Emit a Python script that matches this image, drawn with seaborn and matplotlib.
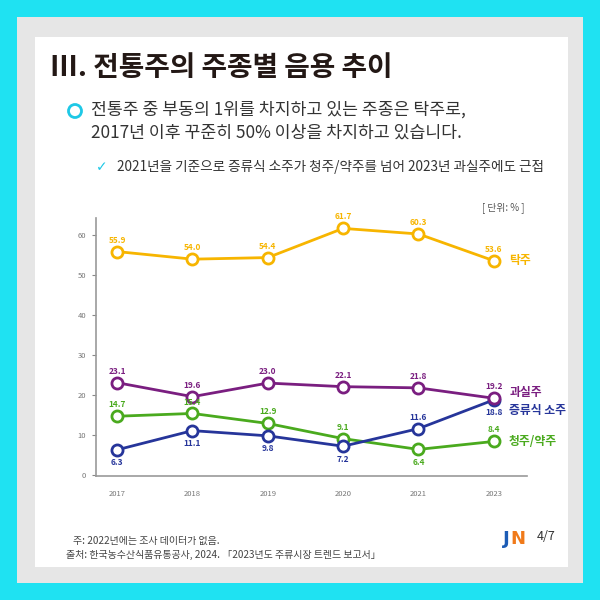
import pandas as pd
import matplotlib
matplotlib.use("Agg")
import matplotlib.pyplot as plt
import seaborn as sns
from matplotlib.patches import Rectangle, Circle

# data
years = ["2017", "2018", "2019", "2020", "2021", "2023"]
takju = [55.9, 54.0, 54.4, 61.7, 60.3, 53.6]
gwasilju = [23.1, 19.6, 23.0, 22.1, 21.8, 19.2]
soju = [6.3, 11.1, 9.8, 7.2, 11.6, 18.8]
cheongju = [14.7, 15.4, 12.9, 9.1, 6.4, 8.4]
series_names = ["탁주", "청주/약주", "증류식 소주", "과실주"]
yticks = [0, 10, 20, 30, 40, 50, 60]

sns.set_theme(style="white")
plt.rcParams['font.family'] = ['Noto Sans CJK KR', 'DejaVu Sans']

colors = {"탁주": "#F7B500", "과실주": "#7A1E80", "증류식 소주": "#26359A", "청주/약주": "#4AAA1E"}
values = {"탁주": takju, "과실주": gwasilju, "증류식 소주": soju, "청주/약주": cheongju}
# label position per point: 1 above, -1 below
label_side = {
    "탁주": [1, 1, 1, 1, 1, 1],
    "과실주": [1, 1, 1, 1, 1, 1],
    "증류식 소주": [-1, -1, -1, -1, 1, -1],
    "청주/약주": [1, 1, 1, 1, -1, 1],
}
# name label offsets at the right end (points)
name_dy = {"탁주": 0, "과실주": 4, "증류식 소주": -8, "청주/약주": 0}

rows = []
for name in series_names:
    for i, y in enumerate(years):
        rows.append({"year": y, "pos": i, "value": values[name][i], "series": name})
df = pd.DataFrame(rows)

fig = plt.figure(figsize=(6, 6), dpi=100)
fig.patch.set_facecolor("#1FE2F2")

def fx(px):
    return px / 600

def fy(py):
    return 1 - py / 600

# frame (behind the axes)
fig.patches.append(Rectangle((fx(17), fy(583)), fx(566), 566 / 600, transform=fig.transFigure,
                             facecolor="#E6E6E6", edgecolor="none", zorder=-3))
fig.patches.append(Rectangle((fx(35), fy(567)), fx(533), 530 / 600, transform=fig.transFigure,
                             facecolor="white", edgecolor="none", zorder=-2))

ax = fig.add_axes([fx(96), fy(476), fx(431), 258 / 600])
ax.set_facecolor("none")

for name in series_names:
    sub = df[df["series"] == name]
    c = colors[name]
    sns.lineplot(data=sub, x="pos", y="value", ax=ax, color=c, linewidth=2,
                 marker="o", markersize=8, markerfacecolor="white",
                 markeredgecolor=c, markeredgewidth=2, legend=False)
    for i, v in enumerate(values[name]):
        side = label_side[name][i]
        ax.annotate(f"{v:.1f}", xy=(i, v), xytext=(0, 5 * side if side > 0 else -6),
                    textcoords="offset points",
                    ha="center", va="bottom" if side > 0 else "top",
                    fontsize=6, color=c, fontweight="bold")
    ax.annotate(name, xy=(len(years) - 1, values[name][-1]), xytext=(11, name_dy[name]),
                textcoords="offset points", ha="left", va="center",
                fontsize=8.5, color=c, fontweight="bold")

ax.set_xlim(-0.28, 5.44)
ax.set_ylim(-0.25, 64.3)
ax.set_xticks(range(len(years)))
ax.set_xticklabels(years)
ax.set_yticks(yticks)
ax.set_xlabel("")
ax.set_ylabel("")
ax.tick_params(axis="y", length=3, width=0.8, color="#888888", labelsize=5.5,
               labelcolor="#777777", pad=4, left=True)
ax.tick_params(axis="x", length=0, labelsize=5.5, labelcolor="#777777", pad=10)
for s in ["top", "right"]:
    ax.spines[s].set_visible(False)
for s in ["left", "bottom"]:
    ax.spines[s].set_color("#999999")
    ax.spines[s].set_linewidth(1.2)

# titles and notes
fig.text(fx(50), fy(68), "Ⅲ. 전통주의 주종별 음용 추이", fontsize=20, fontweight=900,
         color="#231815", va="center", ha="left")
fig.patches.append(Circle((fx(75), fy(111)), 6.5 / 600, transform=fig.transFigure,
                          fill=False, edgecolor="#1EC8E6", linewidth=2))
fig.text(fx(91), fy(110), "전통주 중 부동의 1위를 차지하고 있는 주종은 탁주로,", fontsize=12.4,
         color="#333333", va="center", ha="left")
fig.text(fx(91), fy(133), "2017년 이후 꾸준히 50% 이상을 차지하고 있습니다.", fontsize=12.4,
         color="#333333", va="center", ha="left")
fig.text(fx(96), fy(167), "✓", fontsize=10, color="#1EC8E6", va="center", ha="left",
         family="DejaVu Sans", fontweight="bold")
fig.text(fx(117), fy(167), "2021년을 기준으로 증류식 소주가 청주/약주를 넘어 2023년 과실주에도 근접",
         fontsize=9.8, color="#333333", va="center", ha="left")
fig.text(fx(503), fy(208), "[ 단위: % ]", fontsize=7, color="#555555", va="center", ha="center")

fig.text(fx(73), fy(541), "주: 2022년에는 조사 데이터가 없음.", fontsize=7.2, color="#444444",
         va="center", ha="left")
fig.text(fx(66), fy(555), "출처: 한국농수산식품유통공사, 2024. 「2023년도 주류시장 트렌드 보고서」",
         fontsize=7.2, color="#444444", va="center", ha="left")

# logo
fig.text(fx(503), fy(539), "J", fontsize=13, color="#1C5CB5", fontweight="bold",
         va="center", ha="left", family="DejaVu Sans")
fig.text(fx(510), fy(539), "N", fontsize=13, color="#F07A1A", fontweight="bold",
         va="center", ha="left", family="DejaVu Sans")
fig.text(fx(537), fy(537), "4/7", fontsize=9, color="#333333", va="center", ha="left")

fig.savefig("out.png", dpi=100, facecolor=fig.get_facecolor())
